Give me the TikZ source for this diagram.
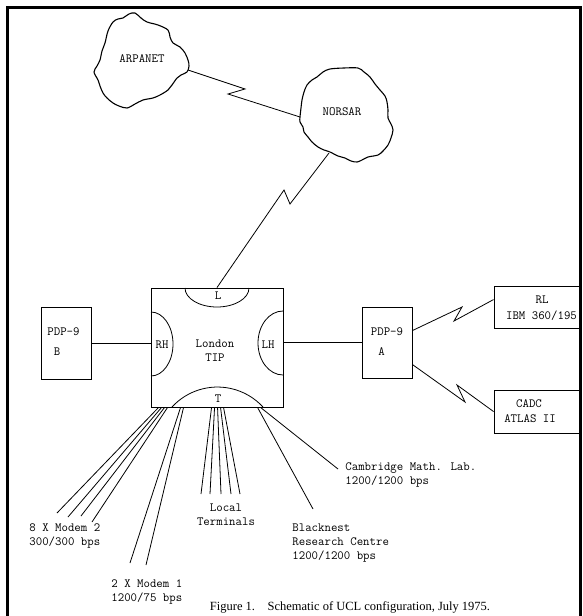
\documentclass[tikz,border=0pt]{standalone}
\usepackage{fontspec}
\newfontfamily\capfont{Liberation Serif}
\usetikzlibrary{calc}

\begin{document}
\begin{tikzpicture}[x=1pt,y=-1pt,line width=0.8pt,
		box/.style={draw,line width=0.9pt,inner sep=0pt},
		lbl/.style={font=\ttfamily\fontsize{12.5}{14}\selectfont,inner sep=0pt},
		cloud/.style={line width=1.1pt}]
			\useasboundingbox (0,0) rectangle (582,616);
			\draw[line width=3pt] (7,616) -- (7,7) -- (580,7) -- (580,616);
			\draw[cloud] plot[smooth cycle,tension=0.55] coordinates {(135,13) (141,18) (147,22) (158,25) (168,30) (170,37) (173,43) (180,47) (185,53) (188,60) (189,66) (187,72) (181,75) (177,78) (172,85) (168,90) (160,95) (153,98) (143,100) (135,104) (127,108) (119,106) (113,103) (107,98) (103,93) (100,86) (98,80) (94,72) (97,66) (100,60) (102,51) (105,43) (108,31) (113,22) (118,19) (123,18) (129,14)};
			\draw[cloud] plot[smooth cycle,tension=0.55] coordinates {(330,69) (344,68) (358,68) (364,72) (370,77) (375,84) (380,90) (385,96) (387,102) (388,110) (388,118) (391,124) (393,130) (391,138) (388,145) (383,151) (378,155) (368,157) (362,160) (357,162) (351,161) (345,158) (338,156) (330,152) (324,150) (318,147) (312,142) (308,137) (304,132) (303,127) (300,122) (300,117) (301,108) (302,100) (304,92) (307,85) (312,80) (317,77) (323,72)};
			\node[lbl] (arpanet) at (142,59) {ARPANET};
			\node[lbl] (norsar) at (342,112) {NORSAR};
			\coordinate (arpar) at (188,70);
			\coordinate (norl) at (300,117);
			\coordinate (norb) at (329,153);
			\node[box,minimum width=50,minimum height=72] (pdpb) at (66,343) {};
			\node[box,minimum width=50,minimum height=71] (pdpa) at (387,342.5) {};
			\node[box,minimum width=132,minimum height=119] (tip) at (217,347.5) {};
			\node[box,minimum width=86,minimum height=42] (rl) at (537,307) {};
			\node[box,minimum width=86,minimum height=43] (cadc) at (537,411.5) {};
			\draw (185,288) arc[start angle=180,end angle=360,x radius=32pt,y radius=19pt];
			\draw (172,407) arc[start angle=137.4,end angle=42.6,radius=61.8pt];
			\draw (151,312) arc[start angle=90,end angle=-90,x radius=22pt,y radius=32pt];
			\draw (283,311) arc[start angle=90,end angle=270,x radius=25pt,y radius=32pt];
			\node[lbl] (llab) at (218,296) {L};
			\node[lbl] (tlab) at (218,399) {T};
			\node[lbl] (rhlab) at (162,345) {RH};
			\node[lbl] (lhlab) at (268,345) {LH};
			\node[lbl,align=center,anchor=north] (london) at (215,339) {London\\TIP};
			\node[lbl] (pdpbname) at (63.5,332) {PDP-9};
			\node[lbl] (pdpbid) at (57,352) {B};
			\node[lbl] (pdpaname) at (387,332) {PDP-9};
			\node[lbl] (pdpaid) at (381.5,352) {A};
			\node[lbl] (rlname) at (542,300) {RL};
			\node[lbl] (ibm) at (541.5,316) {IBM 360/195};
			\node[lbl] (cadcname) at (529,404) {CADC};
			\node[lbl] (atlas) at (530,419) {ATLAS II};
			\draw (arpar) -- (245,89) -- (228,94) -- (norl);
			\draw (norb) -- (290,204) -- (284,190) -- (tip.north);
			\draw (pdpb.east) -- (pdpb.east -| tip.west);
			\draw (tip.east |- pdpa.west) -- (pdpa.west);
			\draw ($(pdpa.north east)+(0,24)$) -- (462,307) -- (454,321) -- ($(rl.north west)+(0,14)$);
			\draw ($(pdpa.north east)+(0,58)$) -- (465,402) -- (457,385) -- ($(cadc.north west)+(0,22)$);
			\foreach \dx/\ex/\ey [count=\i] in {8/57/513,11/68/517,14/81/516,17/92/522} {
				\coordinate (mtwo\i) at (\ex,\ey);
				\draw ($(tip.south west)+(\dx,0)$) -- (mtwo\i);
			}
			\foreach \dx/\ex/\ey [count=\i] in {30/130/563,33/146/565} {
				\coordinate (mone\i) at (\ex,\ey);
				\draw ($(tip.south west)+(\dx,0)$) -- (mone\i);
			}
			\foreach \dx/\ex [count=\i] in {61/201,64/210,67/221,70/231,73/240} {
				\coordinate (term\i) at (\ex,494);
				\draw ($(tip.south west)+(\dx,0)$) -- (term\i);
			}
			\coordinate (blackend) at (313,509);
			\coordinate (cambend) at (338,469);
			\draw ($(tip.south west)+(107,0)$) -- (blackend);
			\draw ($(tip.south west)+(110,0)$) -- (cambend);
			\node[lbl,align=left,anchor=north west] (modemtwo) at (29,523) {8 X Modem 2\\300/300 bps};
			\node[lbl,align=left,anchor=north west] (modemone) at (111,579) {2 X Modem 1\\1200/75 bps};
			\node[lbl,align=center,anchor=north] (terminals) at (226,503) {Local\\Terminals};
			\node[lbl,align=left,anchor=north west] (blacknest) at (292,523) {Blacknest\\Research Centre\\1200/1200 bps};
			\node[lbl,align=left,anchor=north west] (cambridge) at (345,462) {Cambridge Math. Lab.\\1200/1200 bps};
			\node[font=\capfont\fontsize{12.5}{14}\selectfont,inner sep=0pt] (caption) at (350,607) {Figure 1.\quad Schematic of UCL configuration, July 1975.};
		\end{tikzpicture}
\end{document}
